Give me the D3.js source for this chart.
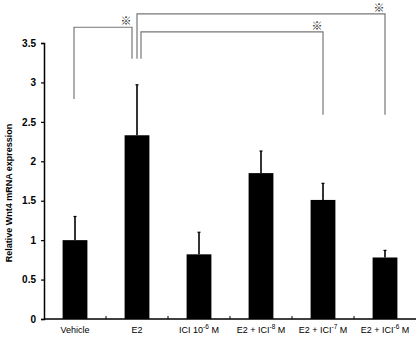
<!DOCTYPE html>
<html>
<head>
<meta charset="utf-8">
<script src="https://cdn.jsdelivr.net/npm/d3@7"></script>
<style>
  body { margin: 0; background: #fff; }
  svg { display: block; font-family: "Liberation Sans", Arial, sans-serif; }
</style>
</head>
<body>
<svg id="chart" width="416" height="339"></svg>
<script>
// data
var groups = ["Vehicle", "E2", "ICI", "E2ICI8", "E2ICI7", "E2ICI6"];
var labelMain = ["Vehicle", "E2", "ICI 10", "E2 + ICI", "E2 + ICI", "E2 + ICI"];
var labelSup = ["", "", "-6", "-8", "-7", "-6"];
var labelTail = ["", "", " M", " M", " M", " M"];
var means = [1.0, 2.33, 0.82, 1.85, 1.51, 0.78];
var errTop = [1.30, 2.97, 1.10, 2.13, 1.72, 0.87];
var yTicks = [0, 0.5, 1, 1.5, 2, 2.5, 3, 3.5];

// significance brackets: from group, to group, leg bottoms, top, small px offsets
var brackets = [
  { a: "Vehicle", b: "E2", ya: 2.79, yb: 3.30, top: 3.70, da: -1, db: -5 },
  { a: "E2", b: "E2ICI6", ya: 3.30, yb: 2.59, top: 3.87, da: 0, db: 0 },
  { a: "E2", b: "E2ICI7", ya: 3.30, yb: 2.59, top: 3.64, da: 4, db: 0 }
];

var margin = { left: 44, bottom: 20 };
var width = 416, height = 339;
var g = d3.select("#chart");

var xScale = d3.scaleBand()
  .domain(groups)
  .range([margin.left, width])
  .paddingInner(0)
  .paddingOuter(0);

var yScale = d3.scaleLinear()
  .domain([0, 3.5])
  .range([height - margin.bottom, 43]);

var barW = xScale.bandwidth() * 0.4;

// y axis
var yAxis = d3.axisLeft(yScale).tickValues(yTicks).tickSize(3).tickFormat(d3.format("~g"));
var ya = g.append("g")
  .attr("transform", "translate(" + margin.left + ",0)")
  .call(yAxis);
ya.select(".domain").attr("stroke-width", 1.5);
ya.selectAll(".tick line").attr("stroke-width", 1.2);
ya.selectAll("text")
  .attr("x", -8)
  .style("font-size", "10px")
  .style("font-weight", "bold");

// x axis with ticks pointing inward
var xa = g.append("g")
  .attr("transform", "translate(0," + yScale(0) + ")");
xa.append("line")
  .attr("x1", margin.left).attr("x2", width)
  .attr("stroke", "#000").attr("stroke-width", 1.5);
xa.selectAll(".xt")
  .data(groups.slice(1))
  .enter().append("line")
  .attr("x1", function(d) { return xScale(d); })
  .attr("x2", function(d) { return xScale(d); })
  .attr("y1", 0).attr("y2", -3)
  .attr("stroke", "#000").attr("stroke-width", 1);

// category labels
var labels = g.selectAll(".cat")
  .data(groups)
  .enter().append("text")
  .attr("class", "cat")
  .attr("x", function(d) { return xScale(d) + xScale.bandwidth() / 2; })
  .attr("y", yScale(0) + 14)
  .attr("text-anchor", "middle")
  .style("font-size", "9px");
labels.append("tspan").text(function(d, i) { return labelMain[i]; });
labels.append("tspan")
  .attr("dy", -4)
  .style("font-size", "6.5px")
  .text(function(d, i) { return labelSup[i]; });
labels.append("tspan")
  .attr("dy", 4)
  .text(function(d, i) { return labelTail[i]; });

// y label
g.append("text")
  .attr("transform", "translate(12," + 193 + ") rotate(-90)")
  .attr("text-anchor", "middle")
  .style("font-size", "9px")
  .style("font-weight", "bold")
  .text("Relative Wnt4 mRNA expression");

// error bars (upper only)
g.selectAll(".err")
  .data(groups)
  .enter().append("line")
  .attr("x1", function(d) { return xScale(d) + xScale.bandwidth() / 2; })
  .attr("x2", function(d) { return xScale(d) + xScale.bandwidth() / 2; })
  .attr("y1", function(d, i) { return yScale(means[i]); })
  .attr("y2", function(d, i) { return yScale(errTop[i]); })
  .attr("stroke", "#000").attr("stroke-width", 1.6);
g.selectAll(".cap")
  .data(groups)
  .enter().append("line")
  .attr("x1", function(d) { return xScale(d) + xScale.bandwidth() / 2 - 1.5; })
  .attr("x2", function(d) { return xScale(d) + xScale.bandwidth() / 2 + 1.5; })
  .attr("y1", function(d, i) { return yScale(errTop[i]); })
  .attr("y2", function(d, i) { return yScale(errTop[i]); })
  .attr("stroke", "#000").attr("stroke-width", 1.2);

// bars
g.selectAll(".bar")
  .data(groups)
  .enter().append("rect")
  .attr("x", function(d) { return xScale(d) + xScale.bandwidth() / 2 - barW / 2; })
  .attr("y", function(d, i) { return yScale(means[i]); })
  .attr("width", barW)
  .attr("height", function(d, i) { return yScale(0) - yScale(means[i]); })
  .style("fill", "#000");

// brackets
brackets.forEach(function(b) {
  var xa_ = xScale(b.a) + xScale.bandwidth() / 2 + b.da;
  var xb_ = xScale(b.b) + xScale.bandwidth() / 2 + b.db;
  g.append("path")
    .attr("d", "M" + xa_ + "," + yScale(b.ya) + "V" + yScale(b.top) + "H" + xb_ + "V" + yScale(b.yb))
    .attr("fill", "none")
    .attr("stroke", "#777")
    .attr("stroke-width", 1.2);
  g.append("text")
    .attr("x", xb_ - 6)
    .attr("y", yScale(b.top) - 2)
    .attr("text-anchor", "middle")
    .style("font-size", "11px")
    .style("fill", "#222")
    .style("font-family", "'Noto Sans CJK JP', sans-serif")
    .text("\u203B");
});
</script>
</body>
</html>
